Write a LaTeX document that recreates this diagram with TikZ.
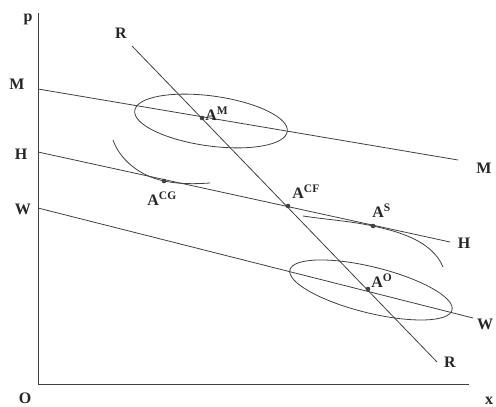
\documentclass[tikz,border=0pt]{standalone}
\usepackage{fontspec}
\setmainfont{Liberation Serif}
\usepackage{tikz}
\usetikzlibrary{positioning}

\newcommand{\Asup}[1]{A\raisebox{5.5pt}{\fontsize{11.5}{11.5}\selectfont #1}}

\begin{document}
\begin{tikzpicture}[x=1pt, y=-1pt, line width=0.8pt, color=black!75,
    lab/.style={font=\bfseries\fontsize{16}{16}\selectfont, text=black!85, inner sep=0pt},
    dot/.style={circle, fill, inner sep=0pt, minimum size=4.6pt}]
    \useasboundingbox (0,0) rectangle (496,407);

    % axes
    \coordinate (O) at (38,384);
    \coordinate (P) at (38,13);
    \coordinate (X) at (469,384);
    \draw (P) -- (O) -- (X);

    % the three price lines and R
    \coordinate (M1) at (38,89);
    \coordinate (M2) at (458,160);
    \coordinate (H1) at (38,152);
    \coordinate (H2) at (450,242);
    \coordinate (W1) at (38,208);
    \coordinate (W2) at (473,318);
    \coordinate (R1) at (132,46);
    \coordinate (R2) at (437,362);
    \draw (M1) -- (M2);
    \draw (H1) -- (H2);
    \draw (W1) -- (W2);
    \draw (R1) -- (R2);

    % ellipses
    \coordinate (EM) at (211,121);
    \coordinate (EO) at (371,290);
    \draw[rotate around={-7.8:(EM)}] (EM) ellipse [x radius=77, y radius=25];
    \draw[rotate around={-13.9:(EO)}] (EO) ellipse [x radius=83.5, y radius=23];

    % tangent curves
    \draw (113,140) .. controls (120,160) and (140,176) .. (164,181)
                    .. controls (180,184.3) and (195,184) .. (210,183);
    \draw (303,216) .. controls (330,220) and (350,221) .. (373,226)
                    .. controls (396,231) and (432,240) .. (443,267);

    % axis and line labels
    \node[lab] (pLab) at (28,19.5) {p};
    \node[lab] (OLab) at (25,398) {O};
    \node[lab] (xLab) at (489,401) {x};
    \node[lab] (MlLab) at (17,84) {M};
    \node[lab] (HlLab) at (21,154) {H};
    \node[lab] (WlLab) at (23,209) {W};
    \node[lab] (MrLab) at (484,168) {M};
    \node[lab] (HrLab) at (464,243) {H};
    \node[lab] (WrLab) at (485,324) {W};
    \node[lab] (RtLab) at (121,33) {R};
    \node[lab] (RbLab) at (450,362) {R};

    % points
    \foreach \name/\x/\y/\lx/\ly/\supname in {
        AM/202/118/205/120/M,
        ACG/164/181/147/205/CG,
        ACF/288/206/292/198/CF,
        AS/373/226/372/217/S,
        AO/368/289/371/287/O
    }{
        \node[dot] (\name) at (\x,\y) {};
        \node[lab, anchor=base west] (\name lab) at (\lx,\ly) {\Asup{\supname}};
    }
\end{tikzpicture}
\end{document}
